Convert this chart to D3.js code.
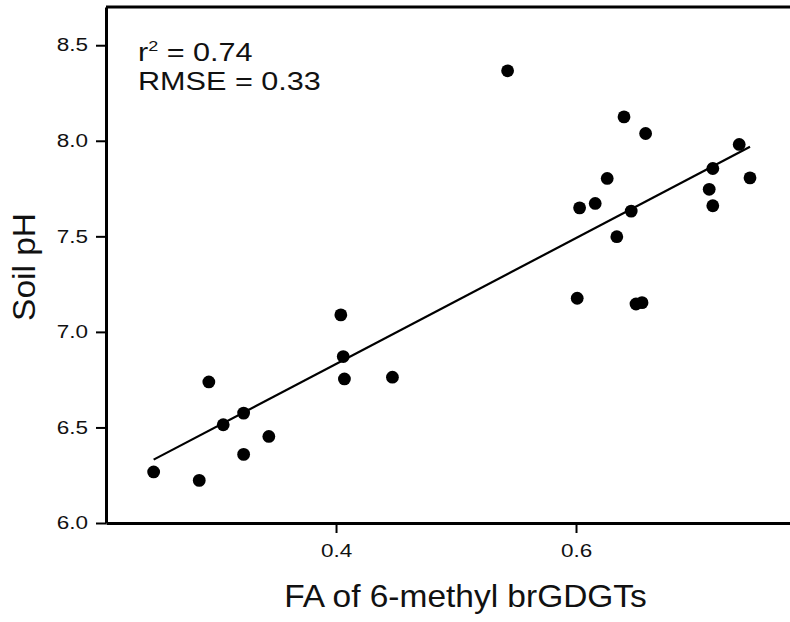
<!DOCTYPE html>
<html>
<head>
<meta charset="utf-8">
<script src="https://cdn.jsdelivr.net/npm/d3@7"></script>
<style>
  html, body { margin: 0; padding: 0; background: #fff; }
  svg { display: block; }
  text { font-family: "Liberation Sans", Arial, sans-serif; fill: #111; }
</style>
</head>
<body>
<svg id="chart" width="790" height="622"></svg>
<script>
// ---- data ----
const faValues = [0.248, 0.286, 0.294, 0.306, 0.323, 0.323, 0.344, 0.404, 0.406, 0.407, 0.447,
                  0.543, 0.640, 0.658, 0.736, 0.714, 0.745, 0.626, 0.711, 0.603, 0.616, 0.714,
                  0.646, 0.634, 0.601, 0.650, 0.655];
const phValues = [6.267, 6.223, 6.738, 6.514, 6.575, 6.359, 6.453, 7.089, 6.871, 6.754, 6.763,
                  8.366, 8.125, 8.038, 7.981, 7.855, 7.806, 7.803, 7.746, 7.649, 7.672, 7.660,
                  7.632, 7.498, 7.176, 7.146, 7.153];
const fitX = [0.248, 0.745];          // extent of the regression line
const fitSlope = 3.293, fitIntercept = 5.515;
const xTicks = [0.4, 0.6];
const yTicks = [6.0, 6.5, 7.0, 7.5, 8.0, 8.5];
const xDomain = [0.2083, 0.7800];
const yDomain = [6.0, 8.7];
const statsLines = ["0.74", "RMSE = 0.33"];
const xTitle = "FA of 6-methyl brGDGTs";
const yTitle = "Soil pH";

// ---- layout ----
const svg = d3.select("#chart");
const mLeft = 106, mRight = 792, mTop = 7, mBottom = 523;
const tickSX = 1.25, statSX = 1.2, titleSX = 1.08;

const x = d3.scaleLinear().domain(xDomain).range([mLeft, mRight]);
const y = d3.scaleLinear().domain(yDomain).range([mBottom, mTop]);

// axes
const xAxis = d3.axisBottom(x).tickValues(xTicks).tickFormat(d3.format(".1f"))
  .tickSize(10).tickPadding(11).tickSizeOuter(0);
const yAxis = d3.axisLeft(y).tickValues(yTicks).tickFormat(d3.format(".1f"))
  .tickSize(10).tickPadding(8).tickSizeOuter(0);

const gx = svg.append("g").attr("transform", `translate(0,${mBottom})`).call(xAxis);
const gy = svg.append("g").attr("transform", `translate(${mLeft},0)`).call(yAxis);
[gx, gy].forEach(g => {
  g.select(".domain").attr("stroke", "#000").attr("stroke-width", 3);
  g.selectAll(".tick line").attr("stroke", "#000").attr("stroke-width", 2);
  g.selectAll(".tick text").attr("font-size", 18).attr("fill", "#151515")
    .style("font-family", '"Liberation Sans", Arial, sans-serif');
});
gx.selectAll(".tick text").attr("transform", `scale(${tickSX},1)`);
gy.selectAll(".tick text").attr("x", 0).attr("transform", `translate(-18,0) scale(${tickSX},1)`);

// top frame line
svg.append("line")
  .attr("x1", x(xDomain[0])).attr("x2", x(xDomain[1]))
  .attr("y1", y(yDomain[1])).attr("y2", y(yDomain[1]))
  .attr("stroke", "#000").attr("stroke-width", 3);

// regression line
svg.append("line")
  .attr("x1", x(fitX[0])).attr("y1", y(fitIntercept + fitSlope * fitX[0]))
  .attr("x2", x(fitX[1])).attr("y2", y(fitIntercept + fitSlope * fitX[1]))
  .attr("stroke", "#000").attr("stroke-width", 2.2);

// points
const pts = faValues.map((v, i) => ({ fa: v, ph: phValues[i] }));
svg.append("g").selectAll("circle").data(pts).join("circle")
  .attr("cx", d => x(d.fa)).attr("cy", d => y(d.ph))
  .attr("r", 6.4).attr("fill", "#000");

// stats annotation
const t1 = svg.append("text").attr("transform", `translate(138,61) scale(${statSX},1)`)
  .attr("font-size", 25.5);
t1.append("tspan").text("r");
t1.append("tspan").attr("font-size", 15).attr("dy", -10).text("2");
t1.append("tspan").attr("dy", 10).text(" = " + statsLines[0]);
svg.append("text").attr("transform", `translate(138,90) scale(${statSX},1)`)
  .attr("font-size", 25.5).text(statsLines[1]);

// axis titles
svg.append("text").attr("transform", `translate(${(284 + 647) / 2},607) scale(${titleSX},1)`)
  .attr("text-anchor", "middle").attr("font-size", 31).text(xTitle);
svg.append("text").attr("transform", `translate(35,267) rotate(-90) scale(${titleSX},1)`)
  .attr("text-anchor", "middle").attr("font-size", 31).text(yTitle);
</script>
</body>
</html>
